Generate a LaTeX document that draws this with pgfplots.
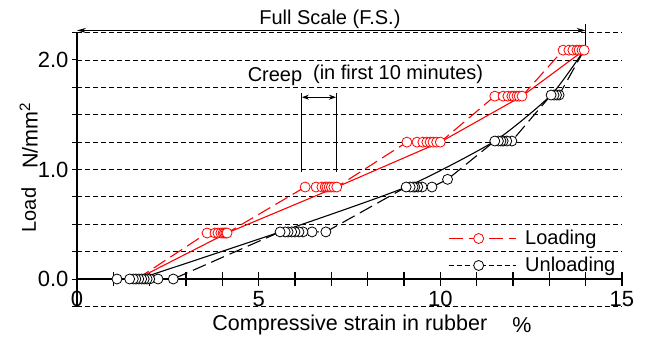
\documentclass[border=0pt]{standalone}
\usepackage{pgfplots}
\pgfplotsset{compat=1.18}
\usepackage{fontspec}
\setmainfont{Liberation Sans}
\usetikzlibrary{arrows.meta}
\newcommand{\txt}{\fontsize{20}{24}\selectfont}
\newcommand{\lbl}{\fontsize{21.5}{25}\selectfont}
\newcommand{\tck}{\fontsize{22}{26}\selectfont}
\pgfplotsset{
  legLoad/.style={legend image code/.code={\draw[##1, mark repeat=2, mark phase=2] plot coordinates {(0pt,0pt) (30pt,0pt) (67pt,0pt)};}},
  legUnload/.style={legend image code/.code={\draw[##1, dash pattern=on 5pt off 3pt, mark repeat=2, mark phase=2] plot coordinates {(0pt,0pt) (30pt,0pt) (67pt,0pt)};}},
}
\begin{document}
\begin{tikzpicture}
\path[use as bounding box] (-77pt,-59pt) rectangle (572pt,279pt);
\begin{axis}[
  at={(0pt,0pt)}, anchor=origin,
  x=36.33pt, y=109.5pt,
  xmin=0, xmax=15, ymin=-0.25, ymax=2.25,
  clip=false,
  axis x line=middle, axis y line=left,
  axis line style={-},
  every inner x axis line/.append style={-, line width=1.6pt},
  every outer y axis line/.append style={-, line width=1.2pt},
  hide obscured x ticks=false,
  xtick=\empty,
  extra x ticks={0,1,2,3,4,5,6,7,8,9,10,11,12,13,14,15},
  extra x tick labels={0,,,,,5,,,,,10,,,,,15},
  extra x tick style={grid=none, major tick length=14pt, tick align=center,
     major tick style={line width=1.2pt, black}},
  ytick={0,1,2}, yticklabels={0.0,1.0,2.0},
  minor ytick={-0.25,0.25,0.5,0.75,1.25,1.5,1.75,2.25},
  ytick align=outside,
  major tick length=5pt, minor tick length=5pt,
  tick style={black, line width=1pt},
  ymajorgrids, yminorgrids,
  major grid style={black, line width=0.9pt, dash pattern=on 5pt off 3pt},
  minor grid style={black, line width=0.9pt, dash pattern=on 5pt off 3pt},
  tick label style={font=\tck},
  xticklabel style={yshift=-2pt},
  legend style={at={(axis cs:10.21,0.463)}, anchor=north west, draw=none, fill=none,
     font=\txt, row sep=7pt, inner sep=0pt,
     /tikz/every odd column/.append style={column sep=7pt}},
  legend cell align=left,
]
% Loading: final (after creep) values, solid
\addplot[red, line width=1.1pt, forget plot] coordinates {
 (1.65,0)(4.13,0.42)(7.15,0.84)(10.00,1.25)(12.25,1.67)(13.96,2.09)};
% Loading: time sequence, dashed with markers
\addplot[red, line width=1.1pt, dash pattern=on 14pt off 6pt,
  mark=*, mark size=5pt, mark phase=2, mark repeat=1,
  mark options={solid, fill=white, draw=red, line width=0.8pt}, legLoad
] coordinates {
 (1.65,0)
 (3.58,0.42)(3.80,0.42)(3.88,0.42)(3.96,0.42)(4.02,0.42)(4.06,0.42)(4.10,0.42)(4.13,0.42)
 (6.28,0.84)(6.58,0.84)(6.74,0.84)(6.83,0.84)(6.88,0.84)(6.94,0.84)(7.00,0.84)(7.07,0.84)(7.15,0.84)
 (9.08,1.25)(9.36,1.25)(9.52,1.25)(9.63,1.25)(9.72,1.25)(9.80,1.25)(9.90,1.25)(10.00,1.25)
 (11.50,1.67)(11.73,1.67)(11.86,1.67)(11.97,1.67)(12.03,1.67)(12.11,1.67)(12.17,1.67)(12.25,1.67)
 (13.38,2.09)(13.54,2.09)(13.65,2.09)(13.76,2.09)(13.82,2.09)(13.90,2.09)(13.96,2.09)};
\addlegendentry{Loading}
% Unloading: final values, solid
\addplot[black, line width=1.1pt, smooth, tension=0.35, forget plot] coordinates {
 (13.96,2.09)(13.05,1.68)(11.50,1.26)(9.06,0.84)(5.59,0.43)(1.70,0)};
% Unloading: time sequence, dashed with markers
\addplot[black, line width=1.1pt, dash pattern=on 14pt off 6pt,
  mark=*, mark size=5pt, mark phase=2, mark repeat=1,
  mark options={solid, fill=white, draw=black, line width=0.8pt}, legUnload
] coordinates {
 (13.96,2.09)
 (13.27,1.68)(13.20,1.68)(13.13,1.68)(13.05,1.68)
 (11.97,1.26)(11.83,1.26)(11.73,1.26)(11.67,1.26)(11.60,1.26)(11.50,1.26)
 (10.20,0.91)(9.77,0.84)(9.50,0.84)(9.38,0.84)(9.30,0.84)(9.25,0.84)(9.17,0.84)(9.06,0.84)
 (6.85,0.43)(6.47,0.43)(6.22,0.43)(6.11,0.43)(6.00,0.43)(5.91,0.43)(5.81,0.43)(5.73,0.43)(5.59,0.43)
 (2.65,0)(2.23,0)(2.00,0)(1.93,0)(1.85,0)(1.78,0)(1.70,0)(1.62,0)(1.55,0)(1.45,0)(1.10,0)};
\addlegendentry{Unloading}
% annotations
\draw[line width=1pt, {Stealth[length=9pt,width=5pt]}-{Stealth[length=9pt,width=5pt]}] (axis cs:0,2.27) -- (axis cs:14,2.27);
\draw[line width=1pt] (axis cs:14,2.33) -- (axis cs:14,2.08);
\node[font=\txt] at (axis cs:6.96,2.37) {Full Scale (F.S.)};
\draw[line width=1pt] (axis cs:6.19,1.70) -- (axis cs:6.19,0.98);
\draw[line width=1pt] (axis cs:7.13,1.70) -- (axis cs:7.13,0.98);
\draw[line width=1pt, {Stealth[length=7pt,width=5pt]}-{Stealth[length=7pt,width=5pt]}] (axis cs:6.19,1.66) -- (axis cs:7.13,1.66);
\node[font=\txt] at (axis cs:5.45,1.85) {Creep};
\node[font=\txt] at (axis cs:8.84,1.87) {(in first 10 minutes)};
\node[font=\lbl] at (axis cs:7.51,-0.42) {Compressive strain in rubber};
\node[font=\lbl] at (axis cs:12.25,-0.42) {\%};
\node[font=\txt, rotate=90] at (axis cs:-1.33,0.63) {Load};
\node[font=\lbl, rotate=90] at (axis cs:-1.33,1.31) {N/mm\textsuperscript{2}};
\end{axis}
\end{tikzpicture}
\end{document}
